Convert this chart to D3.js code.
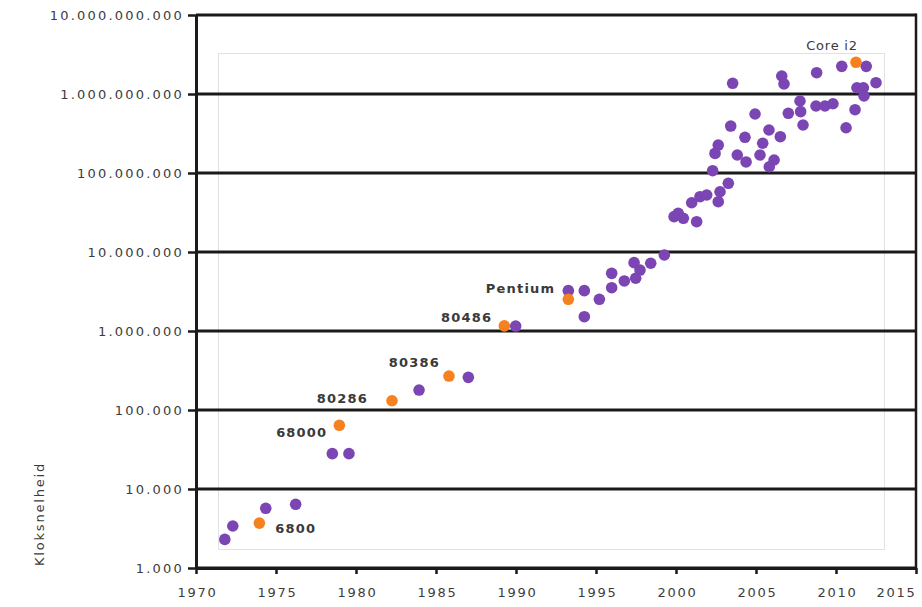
<!DOCTYPE html>
<html>
<head>
<meta charset="utf-8">
<script src="https://cdn.jsdelivr.net/npm/d3@7"></script>
<style>
  body { margin: 0; background: #fff; }
  svg { display: block; }
</style>
</head>
<body>
<div id="chart"></div>
<script>
// processors with names (orange)
var namedNames = ["6800", "68000", "80286", "80386", "80486", "Pentium", "Core i2"];
var namedYears = [1973.96, 1978.96, 1982.25, 1985.81, 1989.27, 1993.27, 2011.25];
var namedCounts = [3700, 64000, 131000, 269000, 1160000, 2520000, 2520000000];

// other processors (purple)
var otherYears = [1971.8, 1972.3, 1974.36, 1976.23, 1978.52, 1979.56, 1983.94, 1987.02, 1989.98,
  1993.27, 1994.27, 1994.27, 1995.21, 1995.98, 1995.98, 1996.77, 1997.38, 1997.48, 1997.75,
  1998.42, 1999.27, 1999.88, 2000.14, 2000.46, 2001.29, 2000.98, 2001.5, 2001.92, 2002.64,
  2002.75, 2003.27, 2002.29, 2002.44, 2002.64, 2003.42, 2003.54, 2003.83, 2004.31, 2004.38,
  2004.94, 2005.25, 2005.42, 2005.81, 2006.13, 2005.83, 2006.52, 2006.61, 2006.75, 2007.02,
  2007.75, 2007.79, 2007.94, 2008.79, 2008.75, 2009.31, 2009.81, 2010.36, 2010.63, 2011.19,
  2011.31, 2011.71, 2011.75, 2011.89, 2012.5];
var otherCounts = [2300, 3400, 5700, 6400, 28000, 28000, 179000, 259000, 1156000,
  3240000, 3240000, 1518000, 2520000, 5370000, 3530000, 4300000, 7330000, 4650000, 5910000,
  7200000, 9160000, 28000000, 30900000, 26700000, 24200000, 42000000, 50100000, 52700000, 43300000,
  57900000, 74100000, 107000000, 177000000, 226000000, 393000000, 1365000000, 169000000, 283000000, 138000000,
  558000000, 169000000, 238000000, 350000000, 146000000, 120000000, 288000000, 1690000000, 1340000000, 570000000,
  815000000, 598000000, 405000000, 1860000000, 705000000, 705000000, 753000000, 2240000000, 374000000, 633000000,
  1200000000, 1200000000, 944000000, 2240000000, 1390000000];

// axis ticks
var xTicks = [1970, 1975, 1980, 1985, 1990, 1995, 2000, 2005, 2010, 2015];
var yTicks = [1e3, 1e4, 1e5, 1e6, 1e7, 1e8, 1e9, 1e10];
var yTitle = "Kloksnelheid";

var width = 922, height = 607;
var mLeft = 196, mRight = 916, mTop = 15, mBottom = 568;

var purple = "#7b45b3", orange = "#f5821f";

var nl = d3.formatLocale({ decimal: ",", thousands: ".", grouping: [3], currency: ["€", ""] });
var fmt = nl.format(",d");

var x = d3.scaleLinear().domain([1970, 2015]).range([mLeft, mRight]);
var y = d3.scaleLog().domain([1e3, 1e10]).range([mBottom, mTop]);

var svg = d3.select("#chart").append("svg")
  .attr("width", width)
  .attr("height", height);

// inner plot frame (light)
svg.append("rect")
  .attr("x", 218.5).attr("y", 53.5)
  .attr("width", 666).attr("height", 496)
  .style("fill", "none")
  .style("stroke", "#e2e2e2");

// gridlines
svg.append("g").selectAll("line")
  .data(yTicks)
  .join("line")
  .attr("x1", mLeft).attr("x2", mRight)
  .attr("y1", function(d) { return y(d); })
  .attr("y2", function(d) { return y(d); })
  .style("stroke", "#1a1a1a")
  .style("stroke-width", 3);

// right border
svg.append("line")
  .attr("x1", mRight).attr("x2", mRight)
  .attr("y1", mTop - 1.5).attr("y2", mBottom + 1.5)
  .style("stroke", "#1a1a1a")
  .style("stroke-width", 2.5);

// axes
var yAxis = d3.axisLeft(y)
  .tickValues(yTicks)
  .tickSizeInner(8)
  .tickSizeOuter(0)
  .tickPadding(4)
  .tickFormat(fmt);

var xAxis = d3.axisBottom(x)
  .tickValues(xTicks)
  .tickSizeInner(6)
  .tickSizeOuter(0)
  .tickPadding(14)
  .tickFormat(d3.format("d"));

var gy = svg.append("g")
  .attr("transform", "translate(" + mLeft + ",0)")
  .call(yAxis);

var gx = svg.append("g")
  .attr("transform", "translate(0," + mBottom + ")")
  .call(xAxis);

[gx, gy].forEach(function(g) {
  g.select(".domain").style("stroke", "#1a1a1a").style("stroke-width", 3);
  g.selectAll(".tick line").style("stroke", "#1a1a1a").style("stroke-width", 2.5);
  g.selectAll("text")
    .style("font-family", "DejaVu Sans")
    .style("font-size", "13px")
    .style("letter-spacing", "1.7px")
    .style("fill", "#3c3c3c");
});
gy.selectAll("text").attr("dy", "0.36em").style("letter-spacing", "2.2px");
// compensate trailing letter-spacing on centred labels; last label pulled inside like the original
gx.selectAll("text").attr("dx", function(d) { return d == 2015 ? -20 : 1; });

// y title
svg.append("text")
  .attr("transform", "translate(44,514) rotate(-90)")
  .attr("text-anchor", "middle")
  .style("font-family", "DejaVu Sans")
  .style("font-size", "13px")
  .style("letter-spacing", "1.8px")
  .style("fill", "#3c3c3c")
  .text(yTitle);

// dots
var others = otherYears.map(function(d, i) { return { year: d, count: otherCounts[i] }; });
var named = namedYears.map(function(d, i) { return { name: namedNames[i], year: d, count: namedCounts[i] }; });

svg.append("g").selectAll("circle")
  .data(others)
  .join("circle")
  .attr("cx", function(d) { return x(d.year); })
  .attr("cy", function(d) { return y(d.count); })
  .attr("r", 5.8)
  .style("fill", purple);

svg.append("g").selectAll("circle")
  .data(named)
  .join("circle")
  .attr("cx", function(d) { return x(d.year); })
  .attr("cy", function(d) { return y(d.count); })
  .attr("r", 5.8)
  .style("fill", orange);

// label placement relative to each orange dot
var labelPos = {
  "6800":    { dx: 16,  dy: 10, anchor: "start" },
  "68000":   { dx: -12, dy: 12, anchor: "end" },
  "80286":   { dx: -24, dy: 2,  anchor: "end" },
  "80386":   { dx: -9,  dy: -9, anchor: "end" },
  "80486":   { dx: -12, dy: -4, anchor: "end" },
  "Pentium": { dx: -13, dy: -6, anchor: "end" },
  "Core i2": { dx: -24, dy: -12, anchor: "middle" }
};

svg.append("g").selectAll("text")
  .data(named)
  .join("text")
  .attr("x", function(d) { return x(d.year) + labelPos[d.name].dx; })
  .attr("y", function(d) { return y(d.count) + labelPos[d.name].dy; })
  .attr("text-anchor", function(d) { return labelPos[d.name].anchor; })
  .style("font-family", "DejaVu Sans")
  .style("font-size", "13px")
  .style("font-weight", function(d) { return d.name == "Core i2" ? "normal" : "bold"; })
  .style("letter-spacing", function(d) { return d.name == "Core i2" ? "0.8px" : "1.2px"; })
  .style("fill", "#3a3a3a")
  .text(function(d) { return d.name; });
</script>
</body>
</html>
